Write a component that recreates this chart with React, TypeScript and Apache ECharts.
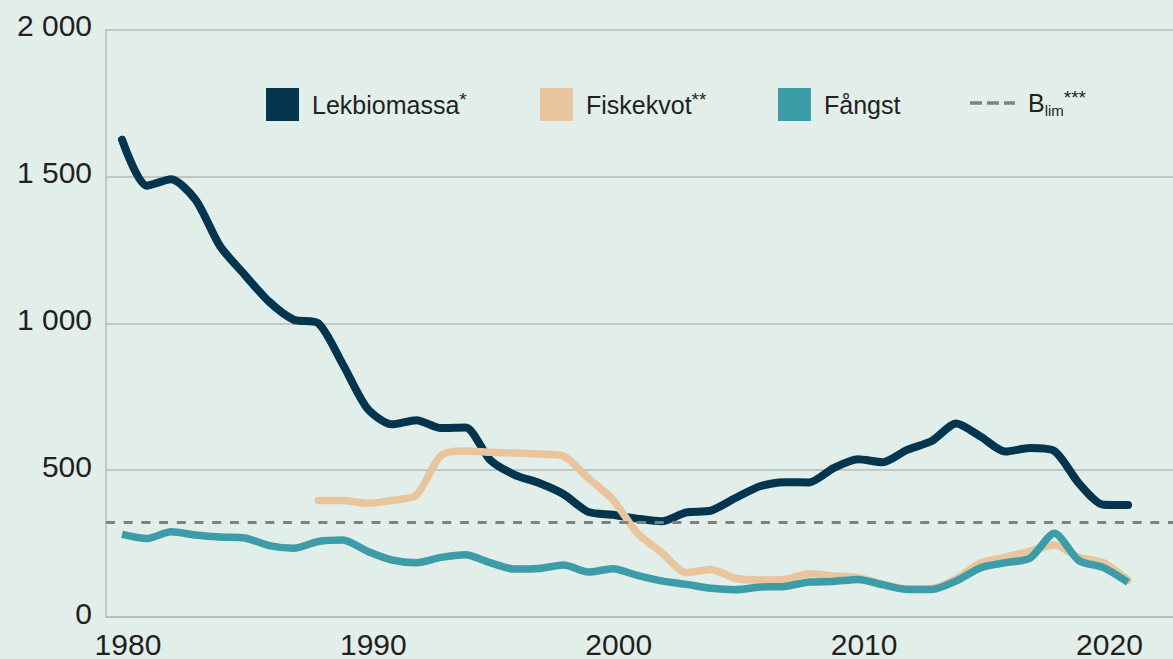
import React, { useEffect, useRef } from "react";
import * as echarts from "echarts";

// ---- data ----
const years: number[] = [
  1980, 1981, 1982, 1983, 1984, 1985, 1986, 1987, 1988, 1989,
  1990, 1991, 1992, 1993, 1994, 1995, 1996, 1997, 1998, 1999,
  2000, 2001, 2002, 2003, 2004, 2005, 2006, 2007, 2008, 2009,
  2010, 2011, 2012, 2013, 2014, 2015, 2016, 2017, 2018, 2019,
  2020, 2021,
];

const lekbiomassa: number[] = [
  1625, 1468, 1490, 1420, 1262, 1165, 1073, 1012, 1000, 860,
  710, 656, 670, 643, 645, 535, 484, 456, 418, 358,
  348, 335, 326, 356, 362, 405, 445, 459, 458, 507,
  537, 527, 569, 599, 659, 614, 563, 575, 565, 455,
  382, 381,
];

const fiskekvot: (number | null)[] = [
  null, null, null, null, null, null, null, null, 397, 397,
  387, 397, 415, 550, 565, 561, 558, 555, 548, 473,
  400, 286, 219, 151, 162, 132, 126, 128, 147, 140,
  134, 112, 96, 97, 130, 185, 203, 224, 245, 203,
  185, 125,
];

const fangst: number[] = [
  281, 267, 290, 279, 272, 269, 243, 234, 257, 262,
  224, 194, 185, 203, 212, 185, 163, 165, 177, 153,
  164, 142, 123, 111, 98, 93, 102, 104, 119, 121,
  128, 110, 94, 94, 123, 168, 185, 200, 285, 192,
  168, 118,
];

const blim = 323;

const xTickValues: number[] = [1980, 1990, 2000, 2010, 2020];
const yTickLabels: string[] = ["0", "500", "1 000", "1 500", "2 000"];

const seriesNames = ["Lekbiomassa", "Fiskekvot", "Fångst", "Blim"];
const legendLabels: Record<string, string> = {
  Lekbiomassa: "{n|Lekbiomassa}{sup|*}",
  Fiskekvot: "{n|Fiskekvot}{sup|**}",
  "Fångst": "{n|Fångst}",
  Blim: "{n|B}{sub|lim}{sup|***}",
};

// ---- styles ----
const FONT = "Liberation Sans, Arial, sans-serif";
const TEXT = "#231f20";
const GRID = "#b3bbb7";
const BG = "#e2eeea";
const C_LEK = "#04354f";
const C_KVOT = "#e8c59d";
const C_FANG = "#3c9ca8";
const C_BLIM = "#808080";

const pair = (vals: (number | null)[]) =>
  years.map((y, i) => [y, vals[i]]);

export default function App() {
  const ref = useRef<HTMLDivElement>(null);

  useEffect(() => {
    if (!ref.current) return;
    const chart = echarts.init(ref.current, undefined, { renderer: "svg" });

    const rich = {
      n: { fontSize: 25, lineHeight: 30, color: TEXT, fontFamily: FONT, padding: [0, 0, 0, 8] },
      sup: { fontSize: 19, lineHeight: 16, color: TEXT, fontFamily: FONT, verticalAlign: "top" },
      sub: { fontSize: 15, lineHeight: 14, color: TEXT, fontFamily: FONT, verticalAlign: "bottom" },
    };
    const legendBase = {
      orient: "horizontal",
      top: 88,
      padding: 0,
      itemWidth: 33,
      itemHeight: 33,
      selectedMode: false,
      formatter: (name: string) => legendLabels[name] || name,
      textStyle: { rich, color: TEXT, fontFamily: FONT, fontSize: 25 },
    };
    const legendLefts = [266, 540, 778, 970];
    const dashIcon = "path://M0,0h12v3.5h-12z M17,0h12v3.5h-12z M34,0h11v3.5h-11z";

    const option: any = {
      animation: false,
      backgroundColor: BG,
      textStyle: { fontFamily: FONT },
      grid: { left: 106, right: 0, top: 29.5, bottom: 39.5, containLabel: false },
      legend: seriesNames.map((nm, i) =>
        nm === "Blim"
          ? {
              ...legendBase,
              left: legendLefts[i],
              itemWidth: 45,
              data: [{ name: nm, icon: dashIcon, itemStyle: { color: C_BLIM } }],
            }
          : {
              ...legendBase,
              left: legendLefts[i],
              data: [{ name: nm, icon: "rect" }],
            }
      ),
      xAxis: {
        type: "value",
        min: 1979.348,
        max: 2022.834,
        splitLine: { show: false },
        axisTick: { show: false },
        axisLine: { show: true, lineStyle: { color: GRID, width: 1.5 } },
        axisLabel: {
          customValues: xTickValues,
          formatter: (v: number) => String(v),
          color: TEXT,
          fontSize: 30,
          fontFamily: FONT,
          margin: 12,
          padding: [0, 0, 0, 12],
        },
      },
      yAxis: {
        type: "value",
        min: 0,
        max: 2000,
        interval: 500,
        axisLine: { show: true, lineStyle: { color: GRID, width: 1.5 } },
        axisTick: { show: false },
        splitLine: { show: true, lineStyle: { color: GRID, width: 1.5 } },
        axisLabel: {
          formatter: (v: number) => yTickLabels[Math.round(v / 500)] ?? String(v),
          color: TEXT,
          fontSize: 30,
          fontFamily: FONT,
          margin: 14,
          verticalAlign: "bottom",
          lineHeight: 8,
        },
      },
      series: [
        {
          name: "Lekbiomassa",
          type: "line",
          data: pair(lekbiomassa),
          showSymbol: false,
          symbol: "none",
          smooth: 0.25,
          color: C_LEK,
          lineStyle: { color: C_LEK, width: 8, cap: "round", join: "round" },
          z: 3,
        },
        {
          name: "Fiskekvot",
          type: "line",
          data: pair(fiskekvot),
          showSymbol: false,
          symbol: "none",
          smooth: 0.25,
          color: C_KVOT,
          lineStyle: { color: C_KVOT, width: 7.5, cap: "round", join: "round" },
          z: 4,
        },
        {
          name: "Fångst",
          type: "line",
          data: pair(fangst),
          showSymbol: false,
          symbol: "none",
          smooth: 0.25,
          color: C_FANG,
          lineStyle: { color: C_FANG, width: 7.5, cap: "butt", join: "round" },
          z: 5,
        },
        {
          name: "Blim",
          type: "line",
          data: [[years[0], blim]],
          showSymbol: false,
          symbol: "none",
          color: C_BLIM,
          lineStyle: { color: C_BLIM, width: 3, type: [9, 8.7] },
          z: 2,
          markLine: {
            silent: true,
            symbol: "none",
            label: { show: false },
            lineStyle: { color: C_BLIM, width: 3, type: [9, 8.7] },
            data: [{ yAxis: blim }],
          },
        },
      ],
    };

    chart.setOption(option);
    return () => chart.dispose();
  }, []);

  return (
    <div
      ref={ref}
      style={{ position: "absolute", left: 0, top: 0, width: 1173, height: 659 }}
    />
  );
}
